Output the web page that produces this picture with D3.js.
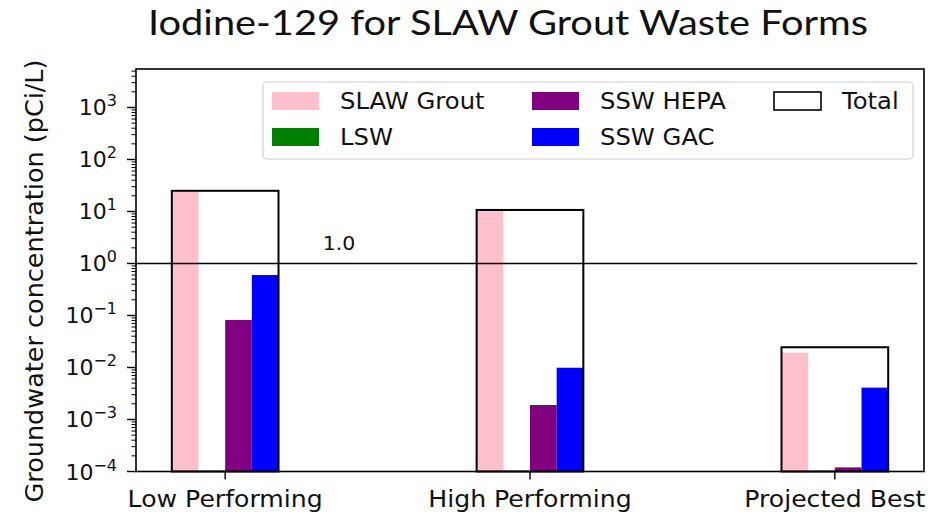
<!DOCTYPE html>
<html><head><meta charset="utf-8">
<script src="https://cdn.jsdelivr.net/npm/d3@7"></script>
<style>html,body{margin:0;padding:0;background:#fff;}svg{display:block;}</style>
</head><body>
<svg id="chart" width="942" height="515"></svg>
<script>
// ---- data ----
const categories = ["Low Performing", "High Performing", "Projected Best"];
const seriesNames = ["SLAW Grout", "LSW", "SSW HEPA", "SSW GAC"];
const seriesColors = ["pink", "green", "purple", "blue"];
const slawGrout = [24.3, 10.7, 0.0193];
const lsw = [0, 0, 0];
const sswHepa = [0.082, 0.0019, 0.00012];
const sswGac = [0.6, 0.0099, 0.0041];
const total = [25.0, 10.7, 0.0245];
const yTickExponents = [-4, -3, -2, -1, 0, 1, 2, 3];
const thresholdValue = 1.0;
const thresholdLabel = "1.0";
const titleText = "Iodine-129 for SLAW Grout Waste Forms";
const yLabelText = "Groundwater concentration (pCi/L)";

const series = [slawGrout, lsw, sswHepa, sswGac];

// ---- layout ----
const svg = d3.select("#chart");
const M = {left: 136, right: 924, top: 69, bottom: 471.5};
const groupWidth = 0.35;
const barW = groupWidth / series.length;
const SX = 1.08; // horizontal stretch of the reference image text

const x = d3.scaleLinear().domain([-0.2925, 2.2925]).range([M.left, M.right]);
const y = d3.scaleLog().domain([1e-4, Math.pow(10, 3.74)]).range([M.bottom, M.top]);

const font = "'DejaVu Sans', sans-serif";

function stretchedText(parent, tx, ty, txt, size, anchor) {
  const g = parent.append("g").attr("transform", `translate(${tx},${ty}) scale(${SX},1)`);
  return g.append("text").attr("x", 0).attr("y", 0).attr("text-anchor", anchor || "start")
    .attr("font-family", font).attr("font-size", size).attr("fill", "#111").text(txt);
}

// title
svg.append("text").attr("x", 508).attr("y", 35).attr("text-anchor", "middle")
  .attr("font-family", "Lato, 'Open Sans', sans-serif").attr("font-size", 35).attr("fill", "#111")
  .attr("textLength", 720).attr("lengthAdjust", "spacingAndGlyphs")
  .text(titleText);

// bars
const gBars = svg.append("g");
series.forEach((vals, si) => {
  vals.forEach((v, ci) => {
    if (!(v > 0)) return;
    const x0 = x(ci - groupWidth / 2 + si * barW);
    const x1 = x(ci - groupWidth / 2 + (si + 1) * barW);
    gBars.append("rect").attr("x", x0).attr("width", x1 - x0)
      .attr("y", y(v)).attr("height", M.bottom - y(v))
      .attr("fill", seriesColors[si]);
  });
});

// total boxes
total.forEach((v, ci) => {
  const x0 = x(ci - groupWidth / 2), x1 = x(ci + groupWidth / 2);
  svg.append("rect").attr("x", x0).attr("width", x1 - x0)
    .attr("y", y(v)).attr("height", M.bottom - y(v))
    .attr("fill", "none").attr("stroke", "#000").attr("stroke-width", 2);
});

// threshold line
svg.append("line").attr("x1", x(-0.2925)).attr("x2", x(2.27))
  .attr("y1", y(thresholdValue)).attr("y2", y(thresholdValue))
  .attr("stroke", "#000").attr("stroke-width", 1.6);
stretchedText(svg, x(0.32), y(thresholdValue) - 13, thresholdLabel, 19);

// y axis ticks (major + minor)
const gy = svg.append("g");
const [d0, d1] = y.domain();
for (let e = -4; e <= 3; e++) {
  for (let m = 1; m <= 9; m++) {
    const v = m * Math.pow(10, e);
    if (v < d0 || v > d1) continue;
    const major = m === 1;
    gy.append("line").attr("x1", M.left - (major ? 9 : 4.5)).attr("x2", M.left)
      .attr("y1", y(v)).attr("y2", y(v)).attr("stroke", "#000").attr("stroke-width", major ? 1.4 : 1);
  }
}
yTickExponents.forEach(e => {
  const t = gy.append("text").attr("x", M.left - 19).attr("y", y(Math.pow(10, e)) + 8)
    .attr("text-anchor", "end").attr("font-family", font).attr("font-size", 22).attr("fill", "#111");
  t.append("tspan").text("10");
  t.append("tspan").attr("dy", -9).attr("font-size", 16).text(String(e).replace("-", "\u2212"));
});

// x axis ticks
categories.forEach((c, ci) => {
  svg.append("line").attr("x1", x(ci)).attr("x2", x(ci)).attr("y1", M.bottom).attr("y2", M.bottom + 8)
    .attr("stroke", "#000").attr("stroke-width", 1.4);
  stretchedText(svg, x(ci), 507, c, 23.3, "middle");
});

// y label
svg.append("text").attr("transform", `translate(43,281) rotate(-90)`)
  .attr("text-anchor", "middle").attr("font-family", font).attr("font-size", 25.5).attr("fill", "#111")
  .text(yLabelText);

// frame
svg.append("rect").attr("x", M.left).attr("y", M.top).attr("width", M.right - M.left)
  .attr("height", M.bottom - M.top).attr("fill", "none").attr("stroke", "#000").attr("stroke-width", 1.6);

// legend
const lg = svg.append("g");
lg.append("rect").attr("x", 263).attr("y", 82).attr("width", 650).attr("height", 77)
  .attr("rx", 4).attr("fill", "#fff").attr("fill-opacity", 0.8).attr("stroke", "#d0d0d0").attr("stroke-width", 1.2);
const legendItems = seriesNames.map((n, i) => ({name: n, color: seriesColors[i], box: false}))
  .concat([{name: "Total", color: "#fff", box: true}]);
const colX = [272, 532, 774];
const rowY = [92, 128];
legendItems.forEach((it, i) => {
  const col = Math.floor(i / 2), row = i % 2;
  const px = colX[col], py = rowY[row];
  lg.append("rect").attr("x", px).attr("y", py).attr("width", 47).attr("height", 18)
    .attr("fill", it.color).attr("stroke", it.box ? "#000" : "none").attr("stroke-width", 1.6);
  stretchedText(lg, px + 68, py + 17, it.name, 22.5);
});
</script>
</body></html>
